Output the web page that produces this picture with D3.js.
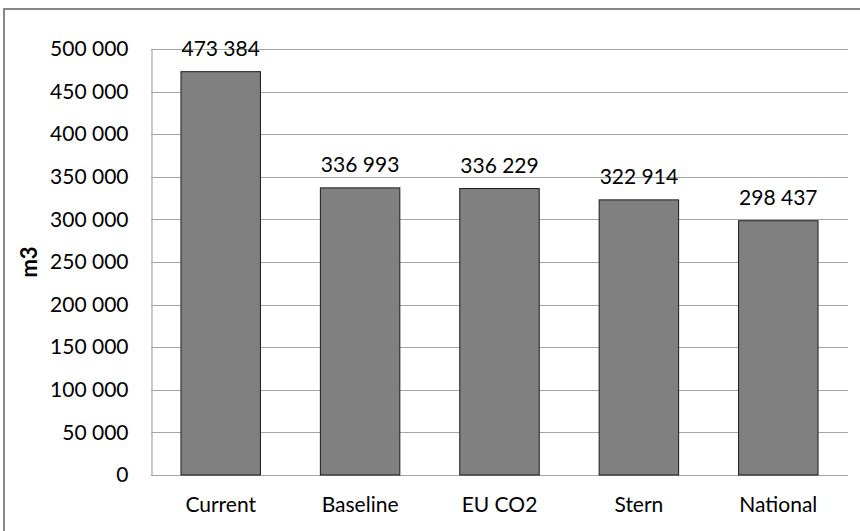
<!DOCTYPE html>
<html>
<head>
<meta charset="utf-8">
<script src="https://cdn.jsdelivr.net/npm/d3@7"></script>
<style>
  html, body { margin: 0; padding: 0; background: #fff; }
  svg { display: block; }
  text { font-family: Lato, "Open Sans", sans-serif; fill: #000; }
</style>
</head>
<body>
<script>
// Aggregated volume per scenario (m3)
const categories = ["Current", "Baseline", "EU CO2", "Stern", "National"];
const volumes = [473384, 336993, 336229, 322914, 298437];
const yTicks = [0, 50000, 100000, 150000, 200000, 250000, 300000, 350000, 400000, 450000, 500000];
const yAxisTitle = "m3";

const W = 860, H = 531;
const margin = { left: 151, right: 12, top: 49, bottom: 56 };

const svg = d3.select("body").append("svg")
  .attr("width", W).attr("height", H);

// chart frame (extends past the visible window on right and bottom)
svg.append("rect")
  .attr("x", 4).attr("y", 9)
  .attr("width", W + 20).attr("height", H + 20)
  .attr("fill", "#fff")
  .attr("stroke", "#868686")
  .attr("stroke-width", 2);

const x = d3.scaleBand()
  .domain(categories)
  .range([margin.left, W - margin.right])
  .paddingInner(0.43)
  .paddingOuter(0.215);

const y = d3.scaleLinear()
  .domain([0, 500000])
  .range([H - margin.bottom, margin.top]);

const fmt = v => d3.format(",")(v).replace(/,/g, " ");

// horizontal gridlines
svg.append("g")
  .selectAll("line")
  .data(yTicks)
  .join("line")
  .attr("x1", margin.left).attr("x2", W - margin.right)
  .attr("y1", d => Math.round(y(d)) + 0.5)
  .attr("y2", d => Math.round(y(d)) + 0.5)
  .attr("stroke", "#a6a6a6")
  .attr("stroke-width", 1.2);

// y axis
const yAxis = svg.append("g")
  .attr("transform", `translate(${margin.left + 0.5},0)`)
  .call(d3.axisLeft(y).tickValues(yTicks).tickFormat(fmt).tickSize(0).tickPadding(23));
yAxis.select(".domain").attr("stroke", "#a6a6a6").attr("stroke-width", 1.2);
yAxis.selectAll("text")
  .attr("font-size", 21)
  .attr("font-family", "Lato, 'Open Sans', sans-serif")
  .attr("fill", "#000");

// bars
svg.append("g")
  .selectAll("rect")
  .data(categories)
  .join("rect")
  .attr("x", d => x(d))
  .attr("y", (d, i) => y(volumes[i]))
  .attr("width", x.bandwidth())
  .attr("height", (d, i) => y(0) - y(volumes[i]))
  .attr("fill", "#808080")
  .attr("stroke", "#1a1a1a")
  .attr("stroke-width", 1);

// value labels
svg.append("g")
  .selectAll("text")
  .data(categories)
  .join("text")
  .attr("x", d => x(d) + x.bandwidth() / 2)
  .attr("y", (d, i) => y(volumes[i]) - 16)
  .attr("text-anchor", "middle")
  .attr("font-size", 21)
  .text((d, i) => fmt(volumes[i]));

// x axis labels
const xAxis = svg.append("g")
  .attr("transform", `translate(0,${y(0)})`)
  .call(d3.axisBottom(x).tickSize(0).tickPadding(22));
xAxis.select(".domain").remove();
xAxis.selectAll("text")
  .attr("font-size", 21)
  .attr("font-family", "Lato, 'Open Sans', sans-serif")
  .attr("fill", "#000");

// y axis title
svg.append("text")
  .attr("transform", `translate(37,${(y(0) + y(500000)) / 2}) rotate(-90)`)
  .attr("text-anchor", "middle")
  .attr("font-size", 22)
  .attr("font-weight", "bold")
  .text(yAxisTitle);
</script>
</body>
</html>
